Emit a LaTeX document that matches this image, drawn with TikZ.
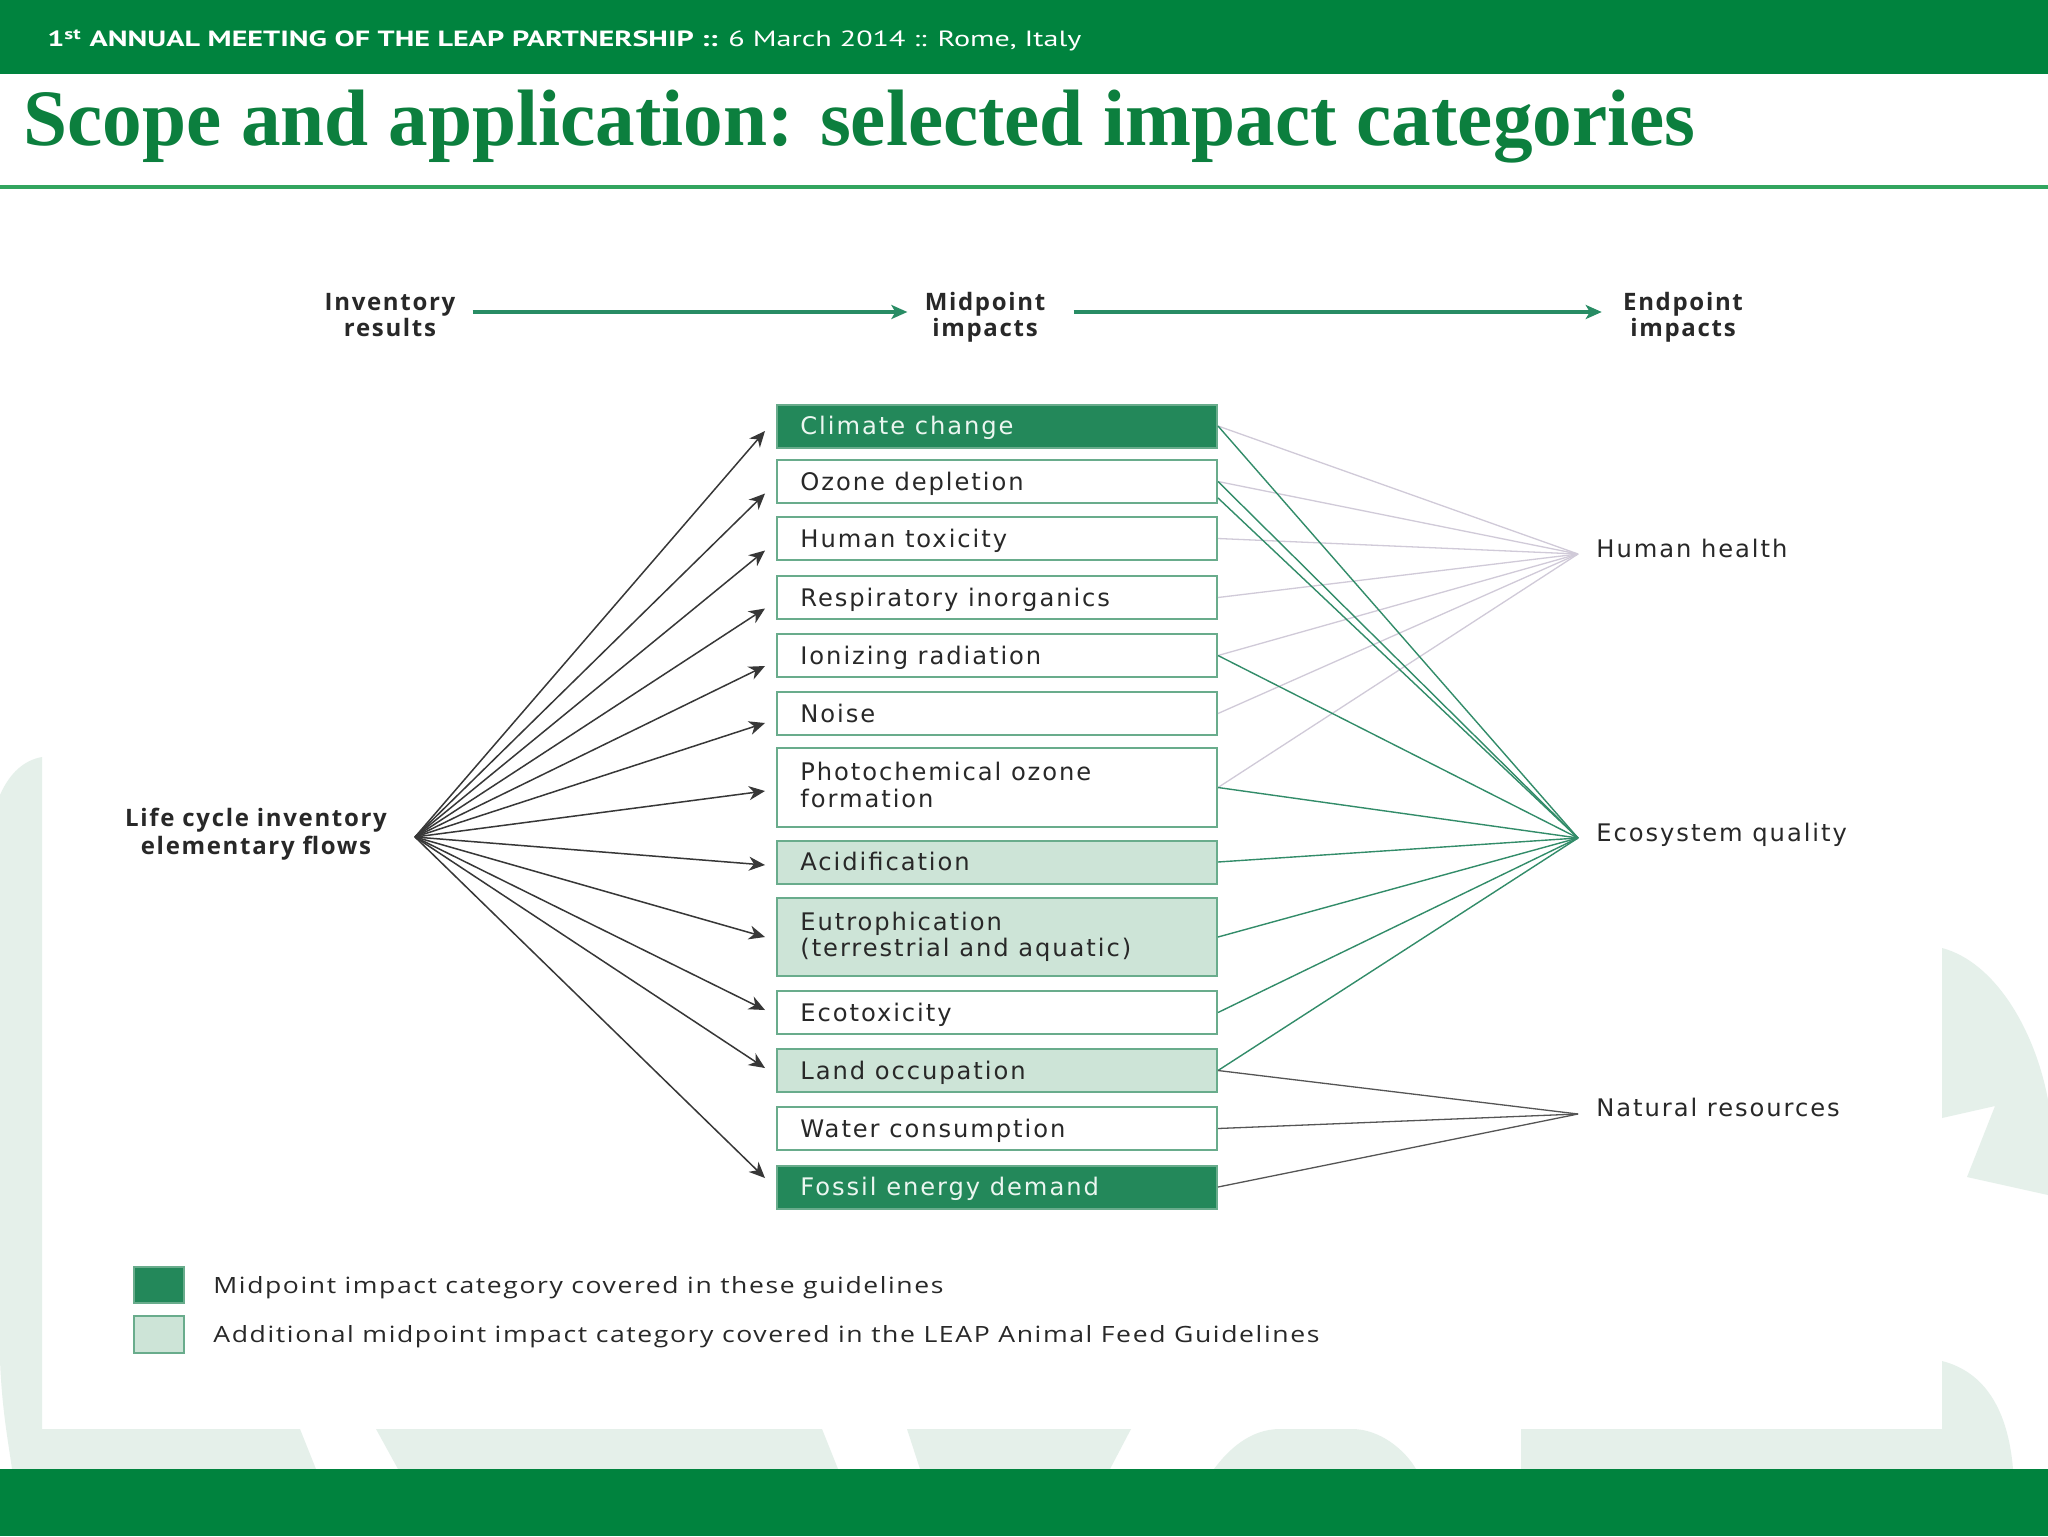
\documentclass[tikz,border=0pt]{standalone}
\usepackage{fontspec}
\setmainfont{Liberation Serif}
\newfontfamily\lab[LetterSpace=8]{DejaVu Sans}
\newfontfamily\leg[LetterSpace=6]{Open Sans}
\newfontfamily\labb[LetterSpace=7]{Open Sans}
\newfontfamily\hdr{PT Sans}
\usetikzlibrary{arrows.meta,calc}
\definecolor{headgreen}{RGB}{0,131,62}
\definecolor{titlegreen}{RGB}{12,127,62}
\definecolor{rulegreen}{RGB}{50,165,95}
\definecolor{boxdark}{RGB}{35,136,90}
\definecolor{boxlight}{RGB}{205,228,215}
\definecolor{boxborder}{RGB}{105,172,140}
\definecolor{eqgreen}{RGB}{50,140,105}
\definecolor{hhgray}{RGB}{208,202,216}
\definecolor{nrgray}{RGB}{85,85,85}
\definecolor{fangray}{RGB}{55,55,55}
\definecolor{textgray}{RGB}{40,40,40}
\definecolor{wmgreen}{RGB}{229,240,234}
\definecolor{darktext}{RGB}{235,246,240}
\definecolor{toparrowc}{RGB}{40,140,100}
\newsavebox\fitbox
\newlength\fitlen
\newcommand\fitto[2]{\sbox\fitbox{#2}\setlength\fitlen{\wd\fitbox}\pgfmathsetmacro\fitr{#1/\fitlen}\scalebox{\fitr}[1]{\usebox\fitbox}}
\begin{document}
\begin{tikzpicture}[x=0.5pt,y=-0.5pt,
  wm/.style={fill=wmgreen},
  mbox/.style={draw=boxborder, line width=1pt, minimum width=220pt, inner sep=0pt, minimum height=21.5pt},
  plainbox/.style={mbox, fill=white},
  lightbox/.style={mbox, fill=boxlight},
  darkbox/.style={mbox, fill=boxdark},
  tallbox/.style={minimum height=39.25pt},
  lt/.style={font=\lab\fontsize{12.1}{13.5}\selectfont, inner sep=0pt, text=textgray, anchor=base west},
  ltd/.style={lt, text=darktext},
  hl/.style={font=\labb\bfseries\fontsize{12}{14}\selectfont, inner sep=0pt, text=textgray, anchor=base},
  fan/.style={draw=fangray, line width=0.75pt, -{Stealth[length=8pt,width=7pt,inset=2.5pt]}},
  hhline/.style={draw=hhgray, line width=0.65pt},
  eqline/.style={draw=eqgreen, line width=0.7pt},
  nrline/.style={draw=nrgray, line width=0.65pt},
  toparrow/.style={draw=toparrowc, line width=2pt, -{Stealth[length=8pt,width=7pt,inset=2pt]}}
]
\useasboundingbox (0,0) rectangle (2048,1536);
\fill[white] (0,0) rectangle (2048,1536);
% watermark remnants
\fill[wm] (0,795) .. controls (10,772) and (25,760) .. (42,757) -- (42,1429) -- (300,1429) -- (316,1469) -- (12,1469) .. controls (8,1440) and (2,1410) .. (0,1360) -- cycle;
\fill[wm] (376,1429) -- (822,1429) -- (838,1469) -- (398,1469) -- cycle;
\fill[wm] (907,1429) -- (1131,1429) -- (1110,1469) -- (920,1469) -- cycle;
\fill[wm] (1214,1469) .. controls (1228,1450) and (1250,1429) .. (1280,1429) -- (1352,1429) .. controls (1380,1429) and (1405,1450) .. (1416,1469) -- cycle;
\fill[wm] (1521,1429) -- (1942,1429) -- (1942,1361) .. controls (1985,1372) and (2008,1410) .. (2013,1469) -- (1521,1469) -- cycle;
\fill[wm] (1942,948) .. controls (1995,962) and (2035,1030) .. (2048,1100) -- (2048,1195) -- (1967,1177) -- (1995,1106) -- (1942,1118) -- cycle;
% header and footer bars
\fill[headgreen] (0,0) rectangle (2048,74);
\fill[headgreen] (0,1469) rectangle (2048,1536);
\node[anchor=base west, inner sep=0pt, text=white] (hdr) at (47,47)
  {\fitto{517pt}{\hdr\fontsize{11}{13}\selectfont\textbf{1\textsuperscript{st} ANNUAL MEETING OF THE LEAP PARTNERSHIP ::} 6 March 2014 :: Rome, Italy}};
\node[anchor=base west, inner sep=0pt, text=titlegreen] (title) at (23,145)
  {\fitto{836pt}{\fontsize{40}{48}\selectfont\bfseries Scope and application: selected impact categories}};
\fill[rulegreen] (0,185) rectangle (2048,189);
% column headers
\node[hl] (inv1) at (390,310) {Inventory};
\node[hl] (inv2) at (390,336) {results};
\node[hl] (mid1) at (985,310) {Midpoint};
\node[hl] (mid2) at (985,336) {impacts};
\node[hl] (end1) at (1683,310) {Endpoint};
\node[hl] (end2) at (1683,336) {impacts};
\draw[toparrow] ([xshift=8.5pt]inv1.east |- 0,312) -- ([xshift=-8.5pt]mid1.west |- 0,312);
\draw[toparrow] ([xshift=14pt]mid1.east |- 0,312) -- ([xshift=-10.5pt]end1.west |- 0,312);
% left label
\node[hl] (lci1) at (256,826) {Life cycle inventory};
\node[hl] (lci2) at (256,854) {elementary flows};
\coordinate (fan) at (415,837);
% boxes
\node[darkbox] (cc) at (997,426) {};
\node[plainbox] (oz) at (997,481.5) {};
\node[plainbox] (ht) at (997,538.5) {};
\node[plainbox] (ri) at (997,597.5) {};
\node[plainbox] (ir) at (997,655.5) {};
\node[plainbox] (no) at (997,713.5) {};
\node[plainbox, tallbox] (ph) at (997,787.5) {};
\node[lightbox] (ac) at (997,862) {};
\node[lightbox, tallbox] (eu) at (997,937) {};
\node[plainbox] (ec) at (997,1012.5) {};
\node[lightbox] (lo) at (997,1070.5) {};
\node[plainbox] (wc) at (997,1128.5) {};
\node[darkbox] (fe) at (997,1187) {};
% box texts
\node[ltd] (cct) at ([xshift=12pt,yshift=-4.25pt]cc.west) {Climate change};
\node[lt] (ozt) at ([xshift=12pt,yshift=-4.25pt]oz.west) {Ozone depletion};
\node[lt] (htt) at ([xshift=12pt,yshift=-4.25pt]ht.west) {Human toxicity};
\node[lt] (rit) at ([xshift=12pt,yshift=-4.25pt]ri.west) {Respiratory inorganics};
\node[lt] (irt) at ([xshift=12pt,yshift=-4.25pt]ir.west) {Ionizing radiation};
\node[lt] (not) at ([xshift=12pt,yshift=-4.25pt]no.west) {Noise};
\node[lt] (pht1) at ([xshift=12pt,yshift=3.75pt]ph.west) {Photochemical ozone};
\node[lt] (pht2) at ([xshift=12pt,yshift=-9.75pt]ph.west) {formation};
\node[lt] (act) at ([xshift=12pt,yshift=-4.25pt]ac.west) {Acidification};
\node[lt] (eut1) at ([xshift=12pt,yshift=3.5pt]eu.west) {Eutrophication};
\node[lt] (eut2) at ([xshift=12pt,yshift=-9.75pt]eu.west) {(terrestrial and aquatic)};
\node[lt] (ect) at ([xshift=12pt,yshift=-4.25pt]ec.west) {Ecotoxicity};
\node[lt] (lot) at ([xshift=12pt,yshift=-4.25pt]lo.west) {Land occupation};
\node[lt] (wct) at ([xshift=12pt,yshift=-4.25pt]wc.west) {Water consumption};
\node[ltd] (fet) at ([xshift=12pt,yshift=-4.25pt]fe.west) {Fossil energy demand};
% fan arrows
\draw[fan] (fan) -- ($(cc.west)+(-11,5)$);
\draw[fan] (fan) -- ($(oz.west)+(-11,12)$);
\draw[fan] (fan) -- ($(ht.west)+(-11,12)$);
\draw[fan] (fan) -- ($(ri.west)+(-11,11)$);
\draw[fan] (fan) -- ($(ir.west)+(-11,10.5)$);
\draw[fan] (fan) -- ($(no.west)+(-11,9.5)$);
\draw[fan] (fan) -- ($(ph.west)+(-11,3.5)$);
\draw[fan] (fan) -- ($(ac.west)+(-11,3)$);
\draw[fan] (fan) -- ($(eu.west)+(-11,0)$);
\draw[fan] (fan) -- ($(ec.west)+(-11,-2.5)$);
\draw[fan] (fan) -- ($(lo.west)+(-11,-2.5)$);
\draw[fan] (fan) -- ($(fe.west)+(-11,-9)$);
% endpoints
\node[lt] (hh) at (1596,557) {Human health};
\node[lt] (eq) at (1596,841) {Ecosystem quality};
\node[lt] (nr) at (1596,1116) {Natural resources};
\coordinate (hhp) at (1578,554);
\coordinate (eqp) at (1578,838);
\coordinate (nrp) at (1578,1114);
\foreach \b in {cc,oz,ht,ri,ir,no,ph} \draw[hhline] (\b.east) -- (hhp);
\foreach \b in {cc,oz,ir,ph,ac,eu,ec,lo} \draw[eqline] (\b.east) -- (eqp);
\draw[eqline] ([yshift=-8.25pt]oz.east) -- (eqp);
\foreach \b in {lo,wc,fe} \draw[nrline] (\b.east) -- (nrp);
% legend
\node[darkbox, minimum width=25pt, minimum height=18pt, line width=0.8pt] (legd) at (159,1285) {};
\node[lightbox, minimum width=25pt, minimum height=18.5pt, line width=0.8pt] (legl) at (159,1334.5) {};
\node[anchor=base west, inner sep=0pt, text=textgray] (legdt) at (213,1293)
  {\fitto{365pt}{\leg\fontsize{11.2}{13.5}\selectfont Midpoint impact category covered in these guidelines}};
\node[anchor=base west, inner sep=0pt, text=textgray] (leglt) at (213,1342)
  {\fitto{553pt}{\leg\fontsize{11.2}{13.5}\selectfont Additional midpoint impact category covered in the LEAP Animal Feed Guidelines}};
\end{tikzpicture}
\end{document}
